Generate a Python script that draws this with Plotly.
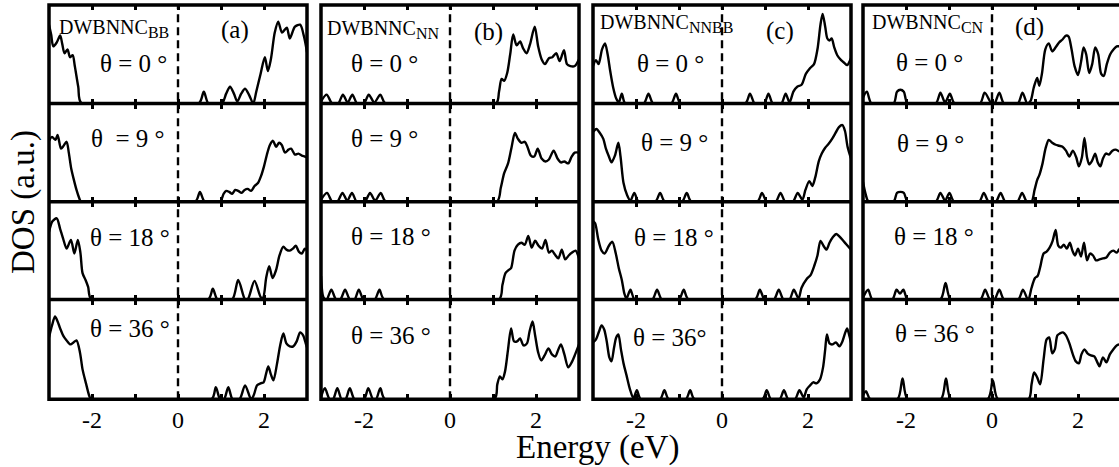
import plotly.graph_objects as go

W, H = 1119, 467

# ---------------- DOS data: energy (eV) and DOS (a.u., panel-normalised) ----------------
# DWBNNC_BB
E_BB_0 = [-3.0, -2.95, -2.90, -2.82, -2.74, -2.69, -2.64, -2.57, -2.51, -2.45, -2.40, -2.32, -2.24,
          0.48, 0.60, 0.71, 1.02, 1.12, 1.21, 1.30, 1.38, 1.47, 1.56, 1.66, 1.75, 1.82, 1.92, 2.02,
          2.09, 2.16, 2.25, 2.33, 2.42, 2.53, 2.60, 2.72, 2.84, 2.93, 3.0]
D_BB_0 = [0.80, 0.70, 0.58, 0.62, 0.69, 0.60, 0.51, 0.55, 0.47, 0.49, 0.38, 0.17, 0.0,
          0.0, 0.12, 0.0, 0.0, 0.10, 0.17, 0.10, 0.02, 0.10, 0.15, 0.08, 0.0, 0.12, 0.30, 0.47,
          0.33, 0.45, 0.72, 0.83, 0.72, 0.77, 0.66, 0.78, 0.80, 0.68, 0.52]
E_BB_9 = [-3.0, -2.93, -2.85, -2.80, -2.72, -2.66, -2.59, -2.54, -2.48, -2.42, -2.36, -2.30, -2.25,
          0.40, 0.51, 0.62, 0.98, 1.06, 1.12, 1.19, 1.26, 1.33, 1.40, 1.48, 1.55, 1.62, 1.70, 1.78,
          1.86, 1.93, 2.0, 2.08, 2.14, 2.21, 2.28, 2.35, 2.41, 2.49, 2.57, 2.63, 2.72, 2.80, 2.88,
          2.95, 3.0]
D_BB_9 = [0.62, 0.66, 0.63, 0.68, 0.54, 0.57, 0.61, 0.50, 0.33, 0.22, 0.12, 0.04, 0.0,
          0.0, 0.10, 0.0, 0.0, 0.08, 0.11, 0.10, 0.08, 0.12, 0.11, 0.09, 0.12, 0.13, 0.11, 0.16,
          0.19, 0.26, 0.36, 0.50, 0.58, 0.62, 0.56, 0.60, 0.58, 0.50, 0.53, 0.54, 0.48, 0.49, 0.47,
          0.46, 0.45]
E_BB_18 = [-3.0, -2.92, -2.82, -2.74, -2.67, -2.59, -2.49, -2.41, -2.33, -2.27, -2.22, -2.15, -2.09,
           -2.01, 0.70, 0.81, 0.92, 1.26, 1.40, 1.56, 1.62, 1.78, 1.93, 1.98, 2.05, 2.12, 2.20, 2.28,
           2.36, 2.45, 2.52, 2.60, 2.67, 2.74, 2.81, 2.88, 2.95, 3.0]
D_BB_18 = [0.69, 0.80, 0.83, 0.72, 0.62, 0.52, 0.61, 0.47, 0.61, 0.48, 0.27, 0.20, 0.13,
           0.0, 0.0, 0.11, 0.0, 0.0, 0.20, 0.0, 0.0, 0.19, 0.02, 0.02, 0.22, 0.34, 0.22, 0.30,
           0.45, 0.54, 0.51, 0.50, 0.52, 0.55, 0.49, 0.47, 0.52, 0.50]
E_BB_36 = [-3.0, -2.93, -2.86, -2.80, -2.74, -2.66, -2.59, -2.50, -2.43, -2.36, -2.28, -2.22, -2.14,
           -2.06, -2.02, 0.78, 0.88, 0.98, 1.07, 1.17, 1.27, 1.43, 1.56, 1.70, 1.76, 1.84, 1.92,
           1.99, 2.05, 2.10, 2.16, 2.22, 2.30, 2.38, 2.45, 2.52, 2.60, 2.68, 2.76, 2.84, 2.91, 2.97,
           3.0]
D_BB_36 = [0.62, 0.74, 0.83, 0.78, 0.71, 0.63, 0.59, 0.55, 0.57, 0.59, 0.47, 0.30, 0.16,
           0.03, 0.0, 0.0, 0.12, 0.0, 0.0, 0.12, 0.0, 0.0, 0.14, 0.0, 0.04, 0.14, 0.16,
           0.17, 0.26, 0.33, 0.25, 0.19, 0.35, 0.55, 0.66, 0.56, 0.53, 0.53, 0.58, 0.67, 0.64, 0.56,
           0.52]

# DWBNNC_NN
E_NN_0 = [-3.0, -2.87, -2.74, -2.60, -2.49, -2.38, -2.27, -2.16, -2.00, -1.89, -1.76, -1.62, -1.50,
          1.07, 1.14, 1.20, 1.26, 1.33, 1.40, 1.47, 1.55, 1.63, 1.70, 1.78, 1.86, 1.97, 2.05, 2.13,
          2.21, 2.30, 2.38, 2.47, 2.55, 2.65, 2.72, 2.80, 2.90, 3.0]
D_NN_0 = [0.02, 0.09, 0.0, 0.0, 0.09, 0.01, 0.09, 0.0, 0.0, 0.09, 0.01, 0.09, 0.0,
          0.0, 0.12, 0.25, 0.23, 0.31, 0.50, 0.70, 0.59, 0.63, 0.56, 0.51, 0.60, 0.78, 0.58, 0.45,
          0.40, 0.46, 0.47, 0.51, 0.43, 0.54, 0.40, 0.38, 0.38, 0.45]
E_NN_9 = [-3.0, -2.86, -2.74, -2.62, -2.50, -2.39, -2.28, -2.17, -1.98, -1.86, -1.74, -1.61, -1.49,
          1.09, 1.18, 1.26, 1.35, 1.43, 1.51, 1.58, 1.66, 1.74, 1.80, 1.88, 1.96, 2.04, 2.13, 2.22,
          2.30, 2.41, 2.50, 2.58, 2.66, 2.75, 2.83, 2.90, 3.0]
D_NN_9 = [0.02, 0.09, 0.0, 0.0, 0.09, 0.01, 0.09, 0.0, 0.0, 0.09, 0.01, 0.09, 0.0,
          0.0, 0.14, 0.29, 0.39, 0.55, 0.70, 0.64, 0.60, 0.61, 0.56, 0.47, 0.46, 0.54, 0.44, 0.41,
          0.43, 0.52, 0.44, 0.40, 0.41, 0.39, 0.46, 0.50, 0.50]
E_NN_18 = [-3.0, -2.94, -2.87, -2.76, -2.65, -2.55, -2.44, -2.33, -2.22, -2.12, -2.01, -1.75, -1.64,
           -1.53, 1.14, 1.22, 1.29, 1.36, 1.42, 1.50, 1.58, 1.66, 1.74, 1.82, 1.90, 1.98, 2.06, 2.14,
           2.22, 2.30, 2.37, 2.44, 2.52, 2.60, 2.68, 2.76, 2.84, 2.92, 3.0]
D_NN_18 = [0.24, 0.02, 0.0, 0.10, 0.0, 0.0, 0.10, 0.0, 0.0, 0.10, 0.0, 0.0, 0.10,
           0.0, 0.0, 0.15, 0.27, 0.30, 0.32, 0.50, 0.56, 0.58, 0.56, 0.65, 0.53, 0.60, 0.55, 0.52,
           0.61, 0.48, 0.50, 0.46, 0.42, 0.51, 0.41, 0.45, 0.48, 0.50, 0.42]
E_NN_36 = [-3.0, -2.91, -2.80, -2.72, -2.62, -2.52, -2.43, -2.33, -2.22, -2.00, -1.90, -1.79, -1.72,
           -1.62, -1.51, 1.03, 1.10, 1.16, 1.22, 1.28, 1.35, 1.42, 1.49, 1.56, 1.63, 1.71, 1.79,
           1.85, 1.92, 1.98, 2.05, 2.12, 2.20, 2.29, 2.37, 2.45, 2.52, 2.58, 2.66, 2.75, 2.83, 2.91,
           3.0]
D_NN_36 = [0.02, 0.11, 0.0, 0.0, 0.11, 0.0, 0.0, 0.11, 0.0, 0.0, 0.11, 0.0, 0.0,
           0.11, 0.0, 0.0, 0.15, 0.23, 0.20, 0.28, 0.50, 0.71, 0.58, 0.58, 0.61, 0.54, 0.56,
           0.68, 0.78, 0.64, 0.47, 0.39, 0.44, 0.51, 0.45, 0.43, 0.50, 0.55, 0.45, 0.32, 0.37, 0.45,
           0.55]

# DWBNNC_NNBB
E_NNBB_0 = [-3.0, -2.93, -2.87, -2.79, -2.72, -2.66, -2.60, -2.53, -2.46, -2.40, -2.33, -2.25,
            -1.82, -1.71, -1.60, -1.18, -1.07, -0.96, 0.54, 0.65, 0.76, 0.98, 1.08, 1.18, 1.38,
            1.48, 1.57, 1.66, 1.75, 1.85, 1.95, 2.05, 2.14, 2.22, 2.29, 2.34, 2.40, 2.45, 2.50,
            2.55, 2.61, 2.68, 2.77, 2.85, 2.91, 3.0]
D_NNBB_0 = [0.38, 0.44, 0.40, 0.55, 0.61, 0.50, 0.33, 0.16, 0.05, 0.01, 0.10, 0.0,
            0.0, 0.10, 0.0, 0.0, 0.10, 0.0, 0.0, 0.10, 0.0, 0.0, 0.10, 0.0, 0.0,
            0.10, 0.01, 0.12, 0.17, 0.19, 0.30, 0.36, 0.40, 0.55, 0.80, 0.91, 0.78, 0.66, 0.64,
            0.66, 0.57, 0.49, 0.44, 0.41, 0.39, 0.46]
E_NNBB_9 = [-3.0, -2.92, -2.84, -2.76, -2.70, -2.63, -2.57, -2.49, -2.41, -2.36, -2.29, -2.21,
            -2.13, -2.04, -1.94, -1.55, -1.44, -1.33, -0.93, -0.82, -0.71, 0.82, 0.93, 1.04, 1.25,
            1.36, 1.47, 1.65, 1.76, 1.87, 1.94, 2.03, 2.10, 2.17, 2.25, 2.32, 2.40, 2.48, 2.56,
            2.64, 2.72, 2.80, 2.86, 2.92, 3.0]
D_NNBB_9 = [0.71, 0.74, 0.70, 0.64, 0.54, 0.46, 0.40, 0.47, 0.60, 0.46, 0.19, 0.07,
            0.01, 0.09, 0.0, 0.0, 0.09, 0.0, 0.0, 0.09, 0.0, 0.0, 0.09, 0.0, 0.0,
            0.09, 0.0, 0.0, 0.09, 0.02, 0.12, 0.21, 0.16, 0.25, 0.41, 0.49, 0.55, 0.59, 0.64,
            0.70, 0.76, 0.78, 0.72, 0.56, 0.44]
E_NNBB_18 = [-3.0, -2.95, -2.88, -2.80, -2.73, -2.63, -2.55, -2.47, -2.40, -2.33, -2.27, -2.22,
             -2.13, -2.03, -1.62, -1.51, -1.40, -1.00, -0.89, -0.78, 0.77, 0.88, 0.99, 1.21, 1.32,
             1.43, 1.57, 1.67, 1.78, 1.85, 1.97, 2.06, 2.15, 2.22, 2.29, 2.36, 2.43, 2.50, 2.58,
             2.66, 2.74, 2.82, 2.90, 3.0]
D_NNBB_18 = [0.80, 0.78, 0.62, 0.50, 0.47, 0.55, 0.59, 0.47, 0.32, 0.20, 0.06, 0.01,
             0.10, 0.0, 0.0, 0.10, 0.0, 0.0, 0.10, 0.0, 0.0, 0.10, 0.0, 0.0, 0.10,
             0.0, 0.0, 0.10, 0.01, 0.12, 0.21, 0.25, 0.35, 0.45, 0.60, 0.55, 0.51, 0.58, 0.64,
             0.67, 0.64, 0.60, 0.56, 0.51]
E_NNBB_36 = [-3.0, -2.93, -2.86, -2.80, -2.74, -2.68, -2.62, -2.57, -2.51, -2.46, -2.41, -2.35,
             -2.29, -2.22, -2.14, -2.06, -1.98, -1.89, -1.44, -1.34, -1.24, -0.84, -0.74, -0.64,
             0.94, 1.04, 1.14, 1.34, 1.44, 1.54, 1.70, 1.80, 1.90, 1.97, 2.05, 2.12, 2.20, 2.28,
             2.35, 2.40, 2.44, 2.50, 2.57, 2.65, 2.73, 2.80, 2.86, 2.91, 2.96, 3.0]
D_NNBB_36 = [0.57, 0.60, 0.68, 0.74, 0.70, 0.58, 0.42, 0.38, 0.52, 0.62, 0.65, 0.50,
             0.36, 0.24, 0.10, 0.01, 0.09, 0.0, 0.0, 0.09, 0.0, 0.0, 0.09, 0.0,
             0.0, 0.09, 0.0, 0.0, 0.09, 0.0, 0.0, 0.09, 0.02, 0.10, 0.14, 0.17, 0.16, 0.20,
             0.32, 0.50, 0.65, 0.56, 0.55, 0.57, 0.53, 0.58, 0.66, 0.71, 0.64, 0.57]

# DWBNNC_CN
E_CN_0 = [-3.0, -2.91, -2.80, -2.29, -2.21, -2.13, -2.05, -1.96, -1.31, -1.20, -1.09, -0.98, -0.87,
          -0.28, -0.17, -0.01, 0.06, 0.17, 0.28, 0.60, 0.71, 0.82, 0.90, 0.97, 1.05, 1.10, 1.16,
          1.24, 1.32, 1.40, 1.48, 1.56, 1.64, 1.72, 1.78, 1.85, 1.92, 2.0, 2.07, 2.13, 2.19, 2.26,
          2.33, 2.40, 2.47, 2.54, 2.60, 2.67, 2.75, 2.83, 2.90, 2.96]
D_CN_0 = [0.06, 0.12, 0.0, 0.0, 0.12, 0.14, 0.12, 0.0, 0.0, 0.11, 0.01, 0.10, 0.0,
          0.0, 0.11, 0.0, 0.0, 0.11, 0.0, 0.0, 0.11, 0.0, 0.03, 0.16, 0.26, 0.18, 0.30,
          0.55, 0.61, 0.53, 0.57, 0.62, 0.65, 0.69, 0.68, 0.55, 0.38, 0.29, 0.42, 0.57, 0.50, 0.31,
          0.40, 0.57, 0.50, 0.30, 0.28, 0.40, 0.50, 0.55, 0.58, 0.58]
E_CN_9 = [-3.0, -2.94, -2.87, -2.29, -2.21, -2.13, -2.05, -1.96, -1.31, -1.20, -1.09, -0.99, -0.88,
          -0.30, -0.19, -0.08, 0.09, 0.20, 0.31, 0.59, 0.70, 0.81, 0.92, 0.99, 1.05, 1.10, 1.17,
          1.25, 1.32, 1.40, 1.48, 1.56, 1.64, 1.72, 1.80, 1.88, 1.96, 2.02, 2.09, 2.15, 2.21, 2.26,
          2.33, 2.40, 2.46, 2.52, 2.58, 2.65, 2.72, 2.80, 2.88, 2.96]
D_CN_9 = [0.20, 0.08, 0.0, 0.0, 0.09, 0.10, 0.09, 0.0, 0.0, 0.09, 0.01, 0.09, 0.0,
          0.0, 0.09, 0.0, 0.0, 0.09, 0.0, 0.0, 0.09, 0.0, 0.0, 0.12, 0.22, 0.27, 0.38,
          0.55, 0.63, 0.60, 0.58, 0.57, 0.56, 0.52, 0.46, 0.52, 0.45, 0.36, 0.45, 0.65, 0.45, 0.38,
          0.42, 0.49, 0.40, 0.36, 0.44, 0.49, 0.48, 0.52, 0.53, 0.51]
E_CN_18 = [-3.0, -2.88, -2.78, -2.32, -2.22, -2.14, -2.06, -1.96, -1.20, -1.08, -0.96, -0.27, -0.16,
           -0.05, 0.06, 0.17, 0.28, 0.61, 0.72, 0.83, 0.85, 0.92, 1.0, 1.06, 1.12, 1.20, 1.27, 1.34,
           1.41, 1.48, 1.54, 1.60, 1.67, 1.74, 1.81, 1.87, 1.93, 2.0, 2.07, 2.14, 2.21, 2.28, 2.35,
           2.42, 2.50, 2.58, 2.66, 2.74, 2.82, 2.90, 2.96]
D_CN_18 = [0.02, 0.10, 0.0, 0.0, 0.10, 0.06, 0.10, 0.0, 0.0, 0.17, 0.0, 0.0, 0.10,
           0.0, 0.0, 0.10, 0.0, 0.0, 0.10, 0.0, 0.0, 0.12, 0.22, 0.24, 0.33, 0.47, 0.49, 0.53,
           0.60, 0.71, 0.55, 0.53, 0.56, 0.52, 0.58, 0.50, 0.45, 0.52, 0.44, 0.58, 0.40, 0.47, 0.45,
           0.40, 0.41, 0.42, 0.43, 0.48, 0.50, 0.48, 0.52]
E_CN_36 = [-3.0, -2.93, -2.83, -2.20, -2.08, -1.96, -1.19, -1.07, -0.95, -0.10, 0.02, 0.14,
           0.85, 0.92, 0.98, 1.05, 1.12, 1.20, 1.27, 1.33, 1.40, 1.46, 1.52, 1.58, 1.65, 1.72, 1.80,
           1.88, 1.95, 2.02, 2.08, 2.15, 2.22, 2.30, 2.38, 2.45, 2.50, 2.58, 2.66, 2.74, 2.82, 2.90,
           2.96]
D_CN_36 = [0.04, 0.08, 0.0, 0.0, 0.21, 0.0, 0.0, 0.21, 0.0, 0.0, 0.19, 0.0,
           0.0, 0.15, 0.27, 0.22, 0.15, 0.40, 0.60, 0.62, 0.46, 0.50, 0.64, 0.66, 0.67, 0.64, 0.56,
           0.45, 0.38, 0.36, 0.45, 0.50, 0.46, 0.44, 0.43, 0.37, 0.33, 0.42, 0.37, 0.45, 0.50, 0.54,
           0.55]

SYSTEMS = ["BB", "NN", "NNBB", "CN"]
PANEL_TAGS = ["(a)", "(b)", "(c)", "(d)"]
ANGLE_TEXT = [
    ["θ = 0 °", "θ\u00a0 = 9 °", "θ = 18 °", "θ = 36 °"],
    ["θ = 0 °", "θ = 9 °", "θ = 18 °", "θ = 36 °"],
    ["θ = 0 °", "θ = 9 °", "θ = 18 °", "θ = 36°"],
    ["θ = 0 °", "θ = 9 °", "θ = 18 °", "θ = 36 °"],
]
SERIES = [
    [(E_BB_0, D_BB_0), (E_BB_9, D_BB_9), (E_BB_18, D_BB_18), (E_BB_36, D_BB_36)],
    [(E_NN_0, D_NN_0), (E_NN_9, D_NN_9), (E_NN_18, D_NN_18), (E_NN_36, D_NN_36)],
    [(E_NNBB_0, D_NNBB_0), (E_NNBB_9, D_NNBB_9), (E_NNBB_18, D_NNBB_18), (E_NNBB_36, D_NNBB_36)],
    [(E_CN_0, D_CN_0), (E_CN_9, D_CN_9), (E_CN_18, D_CN_18), (E_CN_36, D_CN_36)],
]
TICK_VALS = [-3, -2, -1, 0, 1, 2, 3]
TICK_TEXT = ["", "-2", "", "0", "", "2", ""]

# ---------------- layout geometry (pixels) ----------------
PX_PER_EV = 43.0
COL_LEFT = [49, 321, 593, 863]
COL_RIGHT = [307, 579, 851, 1121]
ROW_EDGES = [5, 103.5, 201.7, 299.5, 399.3]

FONT = "Liberation Serif, Times New Roman, Times, serif"


def px_x(p):
    return p / W


def px_y(p):
    return 1 - p / H


fig = go.Figure()
layout = dict(
    width=W, height=H, margin=dict(l=0, r=0, t=0, b=0),
    paper_bgcolor="white", plot_bgcolor="white", showlegend=False,
    font=dict(family=FONT, color="black"),
)
shapes = []
annotations = []

for c in range(4):
    x_lo = -3.0
    x_hi = x_lo + (min(COL_RIGHT[c], W) - COL_LEFT[c]) / PX_PER_EV
    for r in range(4):
        k = c * 4 + r + 1
        E, D = SERIES[c][r]
        fig.add_trace(go.Scatter(
            x=E, y=D, mode="lines", xaxis=f"x{k}", yaxis=f"y{k}",
            line=dict(color="black", width=2.4, shape="spline", smoothing=0.8),
            hoverinfo="skip",
        ))
        layout[f"xaxis{k}"] = dict(
            domain=[px_x(COL_LEFT[c]), px_x(min(COL_RIGHT[c], W))],
            anchor=f"y{k}", range=[x_lo, x_hi],
            showgrid=False, zeroline=False, showline=False,
            ticks="inside", ticklen=5, tickwidth=2.5, tickcolor="black", mirror="ticks",
            tickmode="array", tickvals=TICK_VALS, ticktext=TICK_TEXT,
            showticklabels=(r == 3), ticklabelstandoff=4,
            tickfont=dict(family=FONT, size=24, color="black"),
        )
        layout[f"yaxis{k}"] = dict(
            domain=[px_y(ROW_EDGES[r + 1]), px_y(ROW_EDGES[r])],
            anchor=f"x{k}", range=[0, 1],
            showgrid=False, zeroline=False, showline=False,
            showticklabels=False, ticks="",
        )

    # Fermi level marker across the whole column
    shapes.append(dict(
        type="line", xref=f"x{c * 4 + 1}", yref="paper", x0=0, x1=0,
        y0=px_y(ROW_EDGES[-1]), y1=px_y(ROW_EDGES[0]),
        line=dict(color="black", width=2.4, dash="8px,5px"), layer="above",
    ))
    # column frame and row separators
    shapes.append(dict(
        type="rect", xref="paper", yref="paper",
        x0=px_x(COL_LEFT[c]), x1=px_x(COL_RIGHT[c]),
        y0=px_y(ROW_EDGES[-1]), y1=px_y(ROW_EDGES[0]),
        line=dict(color="black", width=3.5), layer="above",
    ))
    for yy in ROW_EDGES[1:-1]:
        shapes.append(dict(
            type="line", xref="paper", yref="paper",
            x0=px_x(COL_LEFT[c]), x1=px_x(COL_RIGHT[c]), y0=px_y(yy), y1=px_y(yy),
            line=dict(color="black", width=3.5), layer="above",
        ))

# system names
name_pos = [(57, 28), (325, 29), (598, 24), (870, 24)]
for c, (px, py) in enumerate(name_pos):
    annotations.append(dict(
        text=f"DWBNNC<sub><span style='font-size:16px'>{SYSTEMS[c]}</span></sub>",
        xref="paper", yref="paper",
        x=px_x(px), y=px_y(py), xanchor="left", yanchor="middle", showarrow=False,
        font=dict(family=FONT, size=20, color="black"),
    ))
# panel tags
tag_pos = [(235, 30), (488, 32), (780, 31), (1029, 27)]
for c, (px, py) in enumerate(tag_pos):
    annotations.append(dict(
        text=PANEL_TAGS[c], xref="paper", yref="paper",
        x=px_x(px), y=px_y(py), xanchor="center", yanchor="middle", showarrow=False,
        font=dict(family=FONT, size=25, color="black"),
    ))
# twist angle labels
angle_pos = [
    [(133, 63), (128, 138), (130, 238), (130, 328)],
    [(384, 63), (384, 138), (391, 237), (391, 335)],
    [(670, 63), (674, 142), (674, 238), (670, 337)],
    [(929, 62), (930, 143), (934, 237), (935, 333)],
]
for c in range(4):
    for r in range(4):
        px, py = angle_pos[c][r]
        annotations.append(dict(
            text=ANGLE_TEXT[c][r], xref="paper", yref="paper",
            x=px_x(px), y=px_y(py), xanchor="center", yanchor="middle", showarrow=False,
            font=dict(family=FONT, size=25, color="black"),
        ))

# axis titles
annotations.append(dict(
    text="Energy (eV)", xref="paper", yref="paper", x=px_x(598), y=px_y(447),
    xanchor="center", yanchor="middle", showarrow=False,
    font=dict(family=FONT, size=33, color="black"),
))
annotations.append(dict(
    text="DOS (a.u.)", xref="paper", yref="paper", x=px_x(24), y=px_y(202),
    xanchor="center", yanchor="middle", showarrow=False, textangle=-90,
    font=dict(family=FONT, size=33, color="black"),
))

layout["shapes"] = shapes
layout["annotations"] = annotations
fig.update_layout(**layout)
fig.write_html("out.html")
